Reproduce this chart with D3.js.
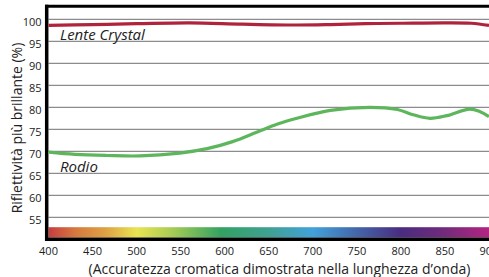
<!DOCTYPE html>
<html><head><meta charset="utf-8">
<script src="https://cdn.jsdelivr.net/npm/d3@7"></script>
<style>body{margin:0;background:#fff}svg{display:block}</style>
</head><body><svg id="c" width="489" height="277"></svg>
<script>
const xTicks = [400,450,500,550,600,650,700,750,800,850,900];
const yTicks = [55,60,65,70,75,80,85,90,95,100];
const crystalNm = [400,450,500,560,620,680,720,760,800,850,880,900];
const crystalVal = [98.6,98.8,99.0,99.2,98.9,98.7,98.8,99.0,99.1,99.2,99.1,98.6];
const rodioNm = [400,430,466,504,549,580,609,637,660,682,720,765,796,814,833,852,878,890,900];
const rodioVal = [69.8,69.3,69.05,68.95,69.6,70.6,72.2,74.4,76.2,77.5,79.3,80.0,79.5,78.3,77.5,78.1,79.6,79.0,77.9];
const spectrumStops = [
  [400,"#c63c40"],[430,"#d6783e"],[465,"#dea244"],[500,"#e8e452"],[540,"#a8cc54"],
  [596,"#32a262"],[650,"#40a092"],[700,"#42a2da"],[750,"#4466aa"],[800,"#4a2c80"],
  [850,"#742a7c"],[900,"#b42482"]
];
const labels = [["Lente Crystal", 413, 95.4], ["Rodio", 413, 65.4]];

const svg = d3.select("#c");
const font = "'Open Sans', 'Noto Sans', sans-serif";
const x = d3.scaleLinear().domain([400,900]).range([48.5,489]);
const y = d3.scaleLinear().domain([50,100]).range([239.3,19.3]);

const defs = svg.append("defs");
const g = defs.append("linearGradient").attr("id","spec").attr("gradientUnits","userSpaceOnUse")
  .attr("x1", x(400)).attr("x2", x(900)).attr("y1",0).attr("y2",0);
spectrumStops.forEach(s => g.append("stop").attr("offset", (s[0]-400)/500).attr("stop-color", s[1]));

svg.append("g").selectAll("line").data(yTicks).join("line")
  .attr("x1", x(400)).attr("x2", 489).attr("y1", d=>y(d)).attr("y2", d=>y(d))
  .attr("stroke","#8c8c8c").attr("stroke-width",1.2);

svg.append("rect").attr("x", x(400)).attr("width", x(900)-x(400))
  .attr("y", y(52.75)).attr("height", y(50.4)-y(52.75)).attr("fill","url(#spec)");

svg.append("line").attr("x1",45).attr("x2",489).attr("y1",6.2).attr("y2",6.2).attr("stroke","#000").attr("stroke-width",3);
svg.append("line").attr("x1",46.7).attr("x2",46.7).attr("y1",4.7).attr("y2",241).attr("stroke","#000").attr("stroke-width",3.5);
svg.append("line").attr("x1",45).attr("x2",489).attr("y1",y(50)).attr("y2",y(50)).attr("stroke","#000").attr("stroke-width",3.5);

const line = d3.line().curve(d3.curveCatmullRom.alpha(0.5)).x(d=>x(d[0])).y(d=>y(d[1]));
svg.append("path").datum(crystalNm.map((n,i)=>[n,crystalVal[i]])).attr("d",line)
  .attr("fill","none").attr("stroke","#b0233c").attr("stroke-width",3.2);
svg.append("path").datum(rodioNm.map((n,i)=>[n,rodioVal[i]])).attr("d",line)
  .attr("fill","none").attr("stroke","#5db65b").attr("stroke-width",3.2);

svg.append("g").selectAll("text").data(labels).join("text")
  .attr("x", d=>x(d[1])).attr("y", d=>y(d[2]))
  .attr("font-family",font).attr("font-style","italic").attr("font-size",15).attr("fill","#222")
  .text(d=>d[0]);

svg.append("g").selectAll("text").data(yTicks).join("text")
  .attr("x", 41.5).attr("y", d=>y(d)+3.6).attr("text-anchor","end").attr("dominant-baseline","middle")
  .attr("font-family",font).attr("font-size",11).attr("fill","#222").text(d=>d);

svg.append("g").selectAll("text").data(xTicks).join("text")
  .attr("x", d=>x(d)).attr("y", 252).attr("text-anchor","middle").attr("dominant-baseline","middle")
  .attr("font-family",font).attr("font-size",11).attr("fill","#222").text(d=>d);

svg.append("text").attr("x", 279.5).attr("y", 274).attr("text-anchor","middle")
  .attr("font-family",font).attr("font-size",14).attr("fill","#222")
  .text("(Accuratezza cromatica dimostrata nella lunghezza d\u2019onda)");
svg.append("text").attr("transform","translate(21.5,128) rotate(-90)").attr("text-anchor","middle")
  .attr("font-family",font).attr("font-size",14).attr("fill","#222")
  .text("Riflettività più brillante (%)");
</script></body></html>
